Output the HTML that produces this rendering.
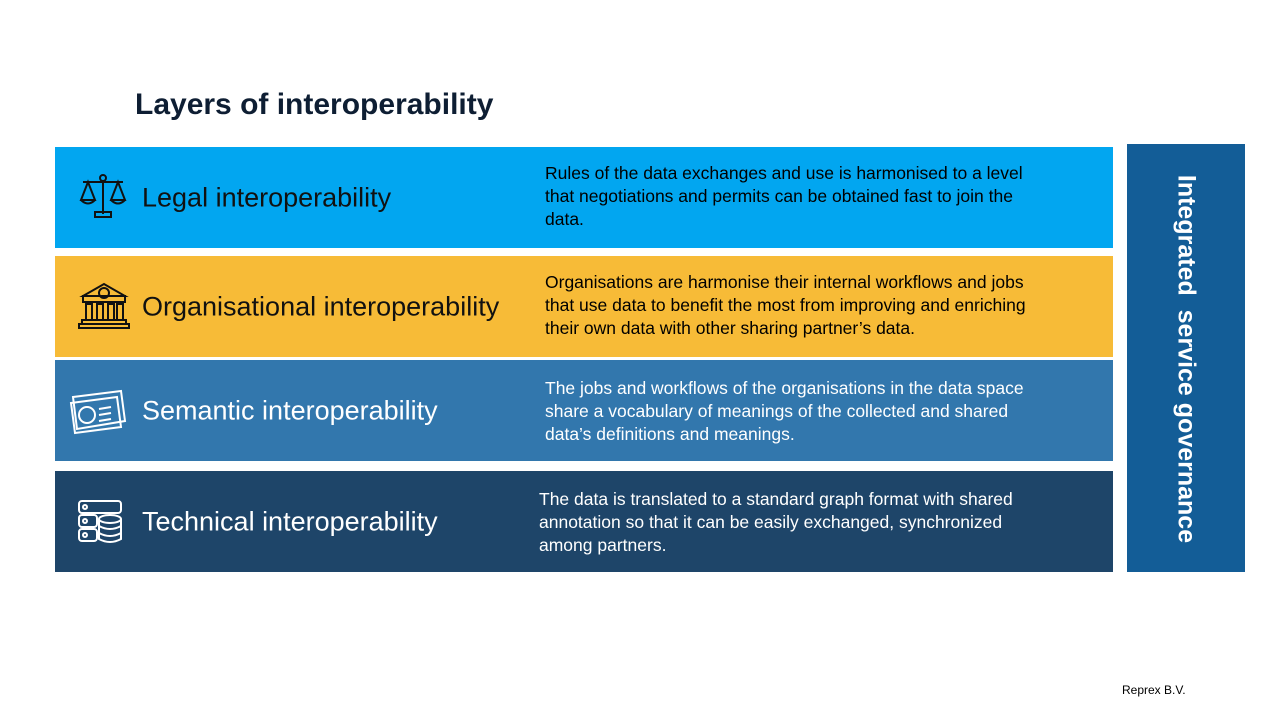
<!DOCTYPE html>
<html><head><style>
body{margin:0;width:1280px;height:720px;background:#fff;position:relative;overflow:hidden;font-family:"Liberation Sans",sans-serif}
.b{position:absolute;left:55px;width:1058px}
.t{position:absolute;left:87px;font-size:27px;top:50%;transform:translateY(-50%);white-space:nowrap}
.d{position:absolute;left:490px;font-size:17.5px;line-height:23px;top:15px;width:505px}
.ic{position:absolute;left:22px;top:50%;transform:translateY(-50%)}
</style></head><body>
<div style="position:absolute;left:135px;top:88px;font-size:30px;font-weight:bold;color:#0e1e33">Layers of interoperability</div>

<div class="b" style="top:147px;height:101px;background:#02a6f0;color:#000">
<svg class="ic" width="52" height="52" viewBox="0 0 52 52" fill="none" stroke="#111" stroke-width="2"><line x1="6" y1="10" x2="46" y2="10"/><circle cx="26" cy="6" r="3"/><line x1="26" y1="9" x2="26" y2="42"/><path d="M11 10 L4 28 H18 Z M41 10 L34 28 H48 Z"/><path d="M4 28 Q11 35 18 28 M34 28 Q41 35 48 28"/><rect x="18" y="40" width="16" height="5"/></svg>
<div class="t" style="color:#111">Legal interoperability</div>
<div class="d">Rules of the data exchanges and use is harmonised to a level that negotiations and permits can be obtained fast to join the data.</div></div>

<div class="b" style="top:256px;height:101px;background:#f7bb37;color:#000">
<svg class="ic" width="54" height="54" viewBox="0 0 54 54" fill="none" stroke="#111" stroke-width="2"><path d="M6 16 L27 4 L48 16 Z"/><rect x="6" y="16" width="42" height="6"/><circle cx="27" cy="13" r="5"/><rect x="9" y="24" width="6" height="16"/><rect x="20" y="24" width="6" height="16"/><rect x="31" y="24" width="6" height="16"/><rect x="40" y="24" width="6" height="16"/><rect x="5" y="40" width="44" height="4"/><rect x="2" y="44" width="50" height="4"/></svg>
<div class="t" style="color:#111">Organisational interoperability</div>
<div class="d" style="top:15px">Organisations are harmonise their internal workflows and jobs that use data to benefit the most from improving and enriching their own data with other sharing partner’s data.</div></div>

<div class="b" style="top:360px;height:101px;background:#3277ad;color:#fff">
<svg class="ic" style="left:14px" width="58" height="48" viewBox="0 0 58 48" fill="none" stroke="#fff" stroke-width="2"><path d="M4 10 L52 4 L56 34 L8 42 Z"/><path d="M2 16 L48 10 L52 40 L6 46 Z"/><circle cx="18" cy="28" r="8"/><line x1="30" y1="22" x2="42" y2="20"/><line x1="30" y1="28" x2="42" y2="26"/><line x1="30" y1="34" x2="42" y2="32"/></svg>
<div class="t" style="color:#fff">Semantic interoperability</div>
<div class="d" style="top:17px">The jobs and workflows of the organisations in the data space share a vocabulary of meanings of the collected and shared data’s definitions and meanings.</div></div>

<div class="b" style="top:471px;height:101px;background:#1e4569;color:#fff">
<svg class="ic" width="46" height="46" viewBox="0 0 46 46" fill="none" stroke="#fff" stroke-width="2"><rect x="2" y="2" width="42" height="12" rx="3"/><rect x="2" y="16" width="18" height="12" rx="3"/><rect x="2" y="30" width="18" height="12" rx="3"/><circle cx="8" cy="8" r="2"/><circle cx="8" cy="22" r="2"/><circle cx="8" cy="36" r="2"/><ellipse cx="33" cy="20" rx="11" ry="4"/><path d="M22 20 V40 Q33 46 44 40 V20 M22 27 Q33 33 44 27 M22 34 Q33 40 44 34"/></svg>
<div class="t" style="color:#fff">Technical interoperability</div>
<div class="d" style="left:484px;top:17px">The data is translated to a standard graph format with shared annotation so that it can be easily exchanged, synchronized among partners.</div></div>

<div style="position:absolute;left:1127px;top:144px;width:118px;height:428px;background:#135d97">
<div style="position:absolute;left:59px;top:215px;transform:translate(-50%,-50%) rotate(90deg);white-space:nowrap;color:#fff;font-weight:bold;font-size:25px">Integrated&nbsp; service governance</div></div>

<div style="position:absolute;left:1122px;top:683px;font-size:12px;color:#000">Reprex B.V.</div>
</body></html>
